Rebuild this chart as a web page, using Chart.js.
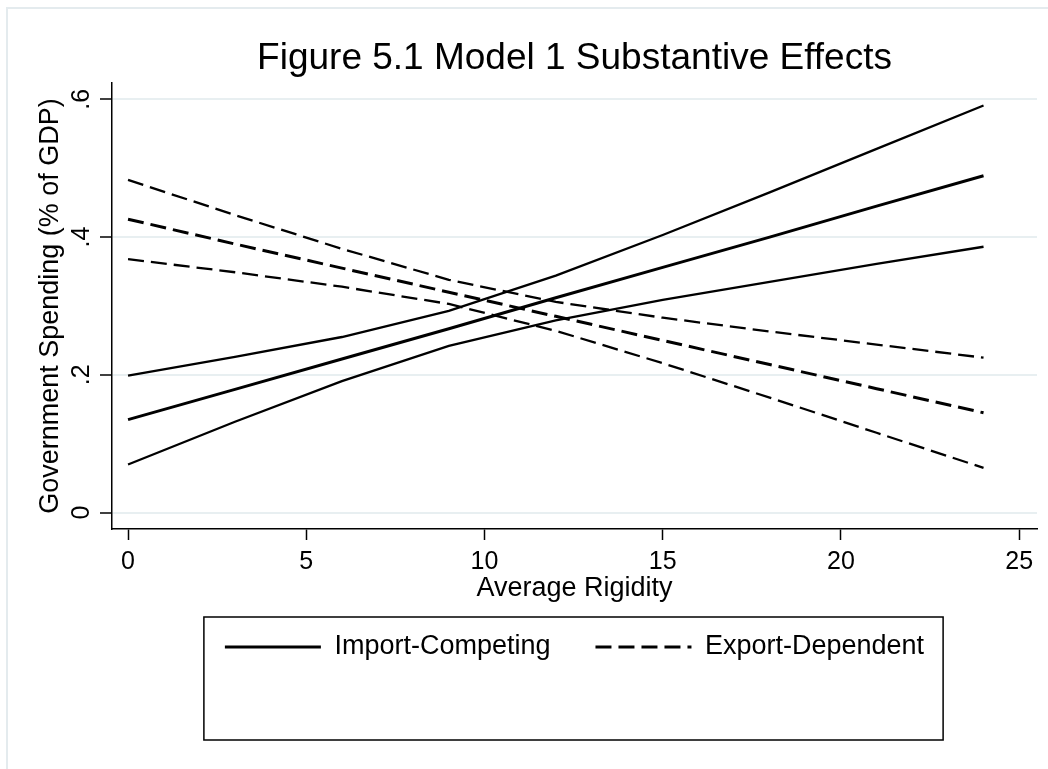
<!DOCTYPE html>
<html>
<head>
<meta charset="utf-8">
<script src="https://cdn.jsdelivr.net/npm/chart.js@4/dist/chart.umd.min.js"></script>
<style>
  html, body { margin: 0; padding: 0; background: #ffffff; }
  #wrap { position: relative; width: 1048px; height: 769px; }
</style>
</head>
<body>
<div id="wrap"><canvas id="fig"></canvas></div>
<script>
// Average rigidity at which predictions were evaluated
const rigidity = [0, 3, 6, 9, 12, 15, 18, 21, 24];

// Import-competing sectors: fitted spending and 95% bounds
const importFit   = [0.135, 0.179, 0.223, 0.267, 0.312, 0.356, 0.400, 0.445, 0.489];
const importUpper = [0.199, 0.226, 0.255, 0.293, 0.344, 0.403, 0.465, 0.528, 0.591];
const importLower = [0.070, 0.132, 0.191, 0.242, 0.279, 0.309, 0.335, 0.361, 0.386];

// Export-dependent sectors: fitted spending and 95% bounds
const exportFit   = [0.426, 0.390, 0.355, 0.320, 0.285, 0.250, 0.215, 0.180, 0.145];
const exportUpper = [0.483, 0.432, 0.383, 0.338, 0.306, 0.283, 0.263, 0.244, 0.225];
const exportLower = [0.368, 0.349, 0.328, 0.303, 0.264, 0.217, 0.167, 0.116, 0.065];

// Axis ticks
const xTickValues = [0, 5, 10, 15, 20, 25];
const yTickValues = [0, 0.2, 0.4, 0.6];
const yTickLabels = ['0', '.2', '.4', '.6'];

const seriesLabels = ['Import-Competing', 'Export-Dependent'];

const FONT = "'Liberation Sans', Arial, Helvetica, sans-serif";
Chart.defaults.font.family = FONT;
Chart.defaults.color = '#000000';

function points(ys) {
  return rigidity.map((x, i) => ({ x: x, y: ys[i] }));
}

const DASH = [16, 7];
function series(label, ys, width, dash) {
  return {
    label: label,
    data: points(ys),
    borderColor: '#000000',
    backgroundColor: '#000000',
    borderWidth: width,
    borderDash: dash,
    borderCapStyle: 'butt',
    pointRadius: 0,
    pointHoverRadius: 0,
    tension: 0,
    fill: false
  };
}

const datasets = [
  series(seriesLabels[0], importFit, 3, []),
  series(seriesLabels[0] + ' upper', importUpper, 2.3, []),
  series(seriesLabels[0] + ' lower', importLower, 2.3, []),
  series(seriesLabels[1], exportFit, 3, DASH),
  series(seriesLabels[1] + ' upper', exportUpper, 2.3, DASH),
  series(seriesLabels[1] + ' lower', exportLower, 2.3, DASH)
];
const legendEntries = [0, 3];

// White page with the thin light frame along the top and left edges
const framePlugin = {
  id: 'frame',
  beforeDraw(chart) {
    const ctx = chart.ctx;
    ctx.save();
    ctx.fillStyle = '#ffffff';
    ctx.fillRect(0, 0, chart.width, chart.height);
    ctx.strokeStyle = '#e4ebee';
    ctx.lineWidth = 2;
    ctx.beginPath();
    ctx.moveTo(7, chart.height);
    ctx.lineTo(7, 8);
    ctx.lineTo(chart.width, 8);
    ctx.stroke();
    ctx.restore();
  }
};

// Rectangle round the legend, with room for a second (empty) row
const legendFramePlugin = {
  id: 'legendFrame',
  afterDraw(chart) {
    const lg = chart.legend;
    if (!lg || !lg.legendHitBoxes || !lg.legendHitBoxes.length) return;
    const boxes = lg.legendHitBoxes;
    const first = boxes[0];
    const last = boxes[boxes.length - 1];
    const rowMid = first.top + first.height / 2;
    const left = first.left - 21;
    const right = last.left + last.width + 19;
    const top = rowMid - 30;
    const bottom = rowMid + 93;
    const ctx = chart.ctx;
    ctx.save();
    ctx.strokeStyle = '#000000';
    ctx.lineWidth = 1.5;
    ctx.strokeRect(left, top, right - left, bottom - top);
    ctx.restore();
  }
};

new Chart(document.getElementById('fig'), {
  type: 'line',
  data: { datasets: datasets },
  plugins: [framePlugin, legendFramePlugin],
  options: {
    responsive: true,
    maintainAspectRatio: false,
    animation: false,
    events: [],
    layout: { padding: { left: 34.8, right: 11, top: 0, bottom: 98.5 } },
    scales: {
      x: {
        type: 'linear',
        min: -0.45,
        max: 25.5,
        afterFit(scale) { scale.height = 59.5; },
        afterBuildTicks(scale) { scale.ticks = xTickValues.map(v => ({ value: v })); },
        ticks: {
          font: { size: 25 },
          color: '#000000',
          padding: 7,
          maxRotation: 0,
          autoSkip: false,
          callback: (v) => String(v)
        },
        grid: {
          drawOnChartArea: false,
          drawTicks: true,
          tickLength: 11,
          tickColor: '#000000',
          tickWidth: 1.5
        },
        border: { display: true, color: '#000000', width: 1.5 },
        title: {
          display: true,
          text: 'Average Rigidity',
          font: { size: 27 },
          color: '#000000',
          padding: { top: 0, bottom: -16.5 }
        }
      },
      y: {
        type: 'linear',
        min: -0.0237,
        max: 0.6237,
        afterFit(scale) { scale.width = 112 - 34.8; },
        afterBuildTicks(scale) { scale.ticks = yTickValues.map(v => ({ value: v })); },
        ticks: {
          font: { size: 25 },
          color: '#000000',
          padding: 7.5,
          minRotation: 90,
          maxRotation: 90,
          crossAlign: 'center',
          autoSkip: false,
          callback: (v) => {
            const i = yTickValues.findIndex(t => Math.abs(t - v) < 1e-9);
            return i >= 0 ? yTickLabels[i] : '';
          }
        },
        grid: {
          drawOnChartArea: true,
          color: '#e8eff1',
          lineWidth: 2,
          drawTicks: true,
          tickLength: 12,
          tickColor: '#000000',
          tickWidth: 1.5
        },
        border: { display: true, color: '#000000', width: 1.5 },
        title: {
          display: true,
          text: 'Government Spending (% of GDP)',
          font: { size: 27 },
          color: '#000000',
          padding: { top: 0, bottom: 0 }
        }
      }
    },
    plugins: {
      title: {
        display: true,
        text: 'Figure 5.1 Model 1 Substantive Effects',
        font: { size: 37, weight: 'normal' },
        color: '#000000',
        fullSize: false,
        padding: { top: 36.4, bottom: 2.2 }
      },
      legend: {
        display: true,
        position: 'bottom',
        fullSize: false,
        labels: {
          font: { size: 27 },
          color: '#000000',
          usePointStyle: true,
          pointStyleWidth: 96,
          padding: 45,
          generateLabels(chart) {
            return legendEntries.map(i => {
              const ds = chart.data.datasets[i];
              return {
                text: ds.label,
                fillStyle: ds.borderColor,
                strokeStyle: ds.borderColor,
                lineWidth: 3,
                lineDash: ds.borderDash,
                lineCap: 'butt',
                pointStyle: 'line',
                hidden: false,
                datasetIndex: i
              };
            });
          }
        }
      },
      tooltip: { enabled: false }
    }
  }
});
</script>
</body>
</html>
